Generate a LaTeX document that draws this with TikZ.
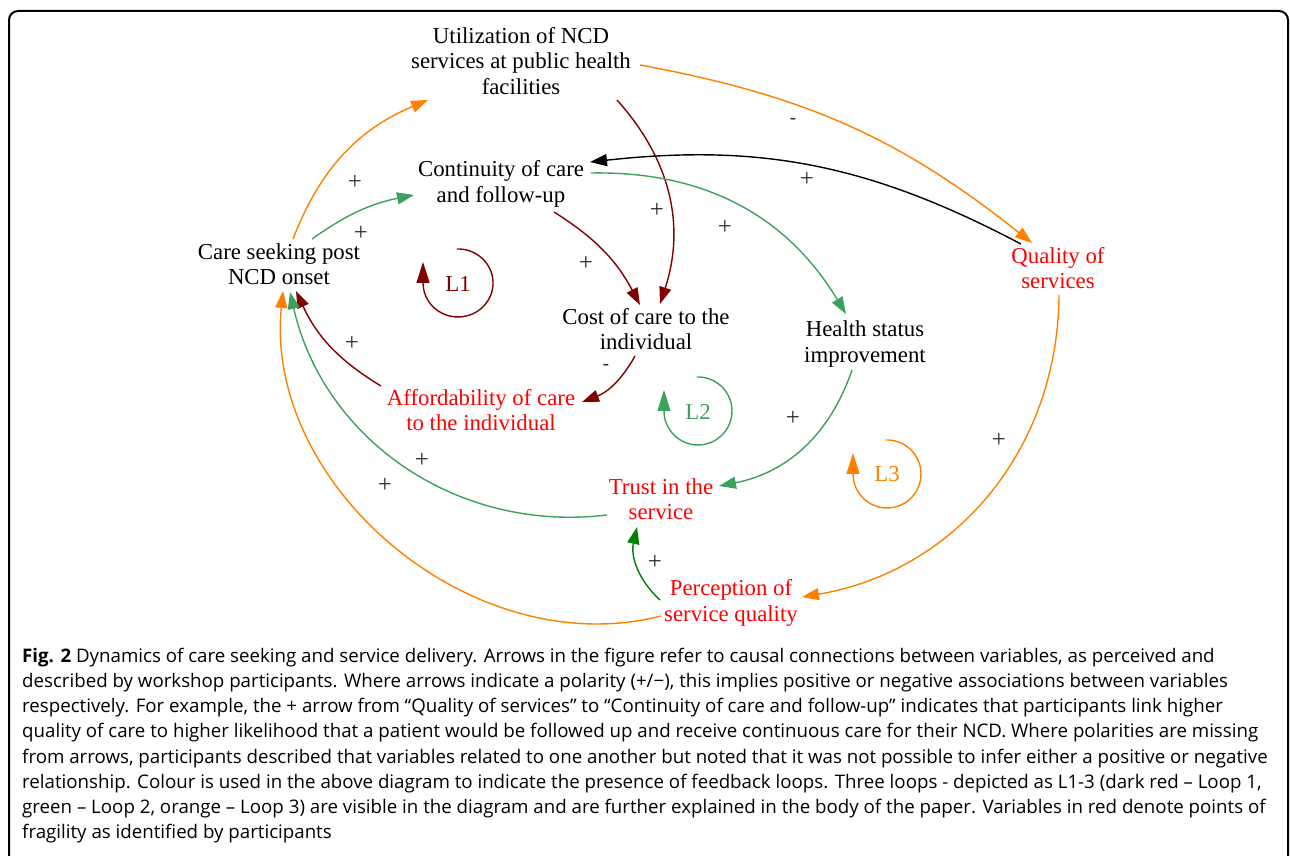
\documentclass[tikz,border=0pt]{standalone}
\usepackage{fontspec}
\setmainfont{Liberation Serif}
\newfontfamily\capfont{Open Sans}
\newfontfamily\polfont{Liberation Sans}
\usetikzlibrary{arrows.meta,calc}
\definecolor{cOrange}{RGB}{255,128,0}
\definecolor{cDark}{RGB}{128,0,0}
\definecolor{cGreen}{RGB}{60,160,95}
\definecolor{cDGreen}{RGB}{0,128,0}
\definecolor{cRed}{RGB}{255,0,0}
\definecolor{cPol}{RGB}{45,45,45}
\begin{document}
\begin{tikzpicture}[x=1pt,y=1pt,
  var/.style={align=center,inner sep=0pt,font=\fontsize{22.8}{25.5}\selectfont},
  fragile/.style={var,text=cRed},
  looplabel/.style={inner sep=0pt,font=\fontsize{22.8}{25.5}\selectfont},
  pol/.style={font=\fontsize{25}{25}\selectfont,text=cPol,inner sep=0pt},
  neg/.style={font=\polfont\fontsize{20}{20}\selectfont,text=cPol,inner sep=0pt},
  link/.style={line width=1.4pt,-{Triangle[length=17pt,width=12pt]}},
  loopArc/.style={line width=1.4pt,-{Triangle[length=21pt,width=13pt]}},
  capline/.style={anchor=base west,inner sep=0pt,font=\capfont\fontsize{18.7}{25}\selectfont}]
\useasboundingbox (0,0) rectangle (1290,-856);
% frame
\draw[line width=2pt,rounded corners=9pt] (9,-880) -- (9,-11) -- (1288,-11) -- (1288,-880);

% variables
\node[var] (util) at (521,-61) {Utilization of NCD\\services at public health\\facilities};
\node[var] (cont) at (501,-184) {Continuity of care\\and follow-up};
\node[var] (care) at (279,-264) {Care seeking post\\NCD onset};
\node[var] (cost) at (646,-329) {Cost of care to the\\individual};
\node[var] (health) at (865,-344) {Health status\\improvement};
\node[fragile] (afford) at (481,-410) {Affordability of care\\to the individual};
\node[fragile] (trust) at (661,-499) {Trust in the\\service};
\node[fragile] (percep) at (731,-603) {Perception of\\service quality};
\node[fragile] (quality) at (1058,-268) {Quality of\\services};

% loop labels
\node[looplabel,text=cDark] (L1) at (458,-284) {L1};
\node[looplabel,text=cGreen] (L2) at (698,-412) {L2};
\node[looplabel,text=cOrange] (L3) at (887,-474) {L3};
\draw[loopArc,cDark] ($(L1)+(-1.2,35)$) arc[start angle=92,end angle=-180,x radius=35,y radius=34] -- ++(0,21);
\draw[loopArc,cGreen] ($(L2)+(-1.2,35)$) arc[start angle=92,end angle=-180,x radius=34,y radius=34] -- ++(0,21);
\draw[loopArc,cOrange] ($(L3)+(-1.2,34)$) arc[start angle=92,end angle=-180,x radius=34,y radius=34] -- ++(0,21);

% links
\draw[link,cOrange] ($(care)+(14,25)$) to[bend left=23] ($(util)+(-93,-39)$);
\draw[link,cGreen] ($(care)+(33,25)$) to[bend left=12] ($(cont)+(-87,-11)$);
\draw[link,cDark] ($(cont)+(53,-28)$) to[bend left=15] ($(cost)+(-6,24)$);
\draw[link,cDark] ($(util)+(96,-39)$) to[bend left=30] ($(cost)+(14,25)$);
\draw[link,cOrange] ($(util)+(119,-4)$) to[bend left=14] ($(quality)+(-26,25)$);
\draw[link,black] ($(quality)+(-37,24)$) to[bend right=17] ($(cont)+(89,22)$);
\draw[link,cGreen] ($(cont)+(90,11)$) to[bend left=30] ($(health)+(-19,30)$);
\draw[link,cDark] ($(cost)+(-11,-27)$) to[bend left=20] ($(afford)+(101,8)$);
\draw[link,cDark] ($(afford)+(-100,24)$) to[bend left=17] ($(care)+(17,-27)$);
\draw[link,cGreen] ($(trust)+(-54,-16)$) to[bend left=42] ($(care)+(11,-28)$);
\draw[link,cOrange] ($(percep)+(-70,-13)$) to[bend left=55] ($(care)+(4,-27)$);
\draw[link,cDGreen] ($(percep)+(-71,3)$) to[bend left=30] ($(trust)+(-24,-28)$);
\draw[link,cGreen] ($(health)+(-13,-26)$) to[bend left=30] ($(trust)+(58,13)$);
\draw[link,cOrange] ($(quality)+(1,-27)$) to[bend left=40] ($(percep)+(71,6)$);

% polarities
\node[pol] (p1) at (355,-182) {+};
\node[pol] (p2) at (361,-233) {+};
\node[pol] (p3) at (586,-263) {+};
\node[pol] (p4) at (657,-210) {+};
\node[neg] (p5) at (793,-121) {-};
\node[pol] (p6) at (807,-179) {+};
\node[pol] (p7) at (725,-227) {+};
\node[neg] (p8) at (606,-367) {-};
\node[pol] (p9) at (352,-343) {+};
\node[pol] (p10) at (422,-460) {+};
\node[pol] (p11) at (385,-485) {+};
\node[pol] (p12) at (655,-562) {+};
\node[pol] (p13) at (793,-418) {+};
\node[pol] (p14) at (999,-440) {+};

% caption
\node[capline] (c1) at (22,-662) {\textbf{Fig. 2} Dynamics of care seeking and service delivery. Arrows in the figure refer to causal connections between variables, as perceived and};
\node[capline] (c2) at (22,-687) {described by workshop participants. Where arrows indicate a polarity (+/−), this implies positive or negative associations between variables};
\node[capline] (c3) at (22,-712) {respectively. For example, the + arrow from “Quality of services” to “Continuity of care and follow-up” indicates that participants link higher};
\node[capline] (c4) at (22,-737) {quality of care to higher likelihood that a patient would be followed up and receive continuous care for their NCD. Where polarities are missing};
\node[capline] (c5) at (22,-763) {from arrows, participants described that variables related to one another but noted that it was not possible to infer either a positive or negative};
\node[capline] (c6) at (22,-788) {relationship. Colour is used in the above diagram to indicate the presence of feedback loops. Three loops - depicted as L1-3 (dark red – Loop 1,};
\node[capline] (c7) at (22,-813) {green – Loop 2, orange – Loop 3) are visible in the diagram and are further explained in the body of the paper. Variables in red denote points of};
\node[capline] (c8) at (22,-838) {fragility as identified by participants};
\end{tikzpicture}
\end{document}
